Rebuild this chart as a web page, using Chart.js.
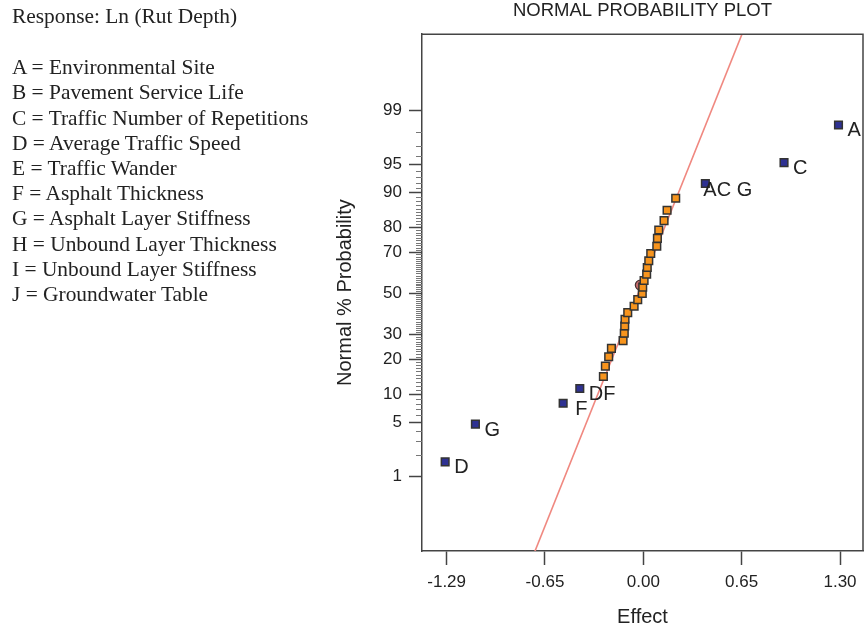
<!DOCTYPE html>
<html>
<head>
<meta charset="utf-8">
<title>Normal Probability Plot</title>
<style>
  html, body { margin: 0; padding: 0; background: #fff; }
  #wrap { position: relative; width: 864px; height: 630px; }
  #myChart { position: absolute; left: 0; top: 0; }
  #notes {
    position: absolute; left: 12px; top: 4px;
    font-family: "Liberation Serif", "Times New Roman", serif;
    font-size: 21.4px; line-height: 25.2px; color: #222; white-space: nowrap;
  }
  #notes .gap { height: 26px; }
</style>
<script src="https://cdn.jsdelivr.net/npm/chart.js@4.4.0/dist/chart.umd.min.js"></script>
</head>
<body>
<div id="wrap">
  <canvas id="myChart" width="864" height="630"></canvas>
  <div id="notes"></div>
</div>
<script>
// --- data ---
const responseName = 'Response: Ln (Rut Depth)';
const factorNotes = [
  'A = Environmental Site',
  'B = Pavement Service Life',
  'C = Traffic Number of Repetitions',
  'D = Average Traffic Speed',
  'E = Traffic Wander',
  'F = Asphalt Thickness',
  'G = Asphalt Layer Stiffness',
  'H = Unbound Layer Thickness',
  'I = Unbound Layer Stiffness',
  'J = Groundwater Table'
];

// labelled (significant) effects, blue squares
const termNames = ['D', 'G', 'F', 'DF', 'AC G', 'C', 'A'];
const termEffects = [-1.31, -1.11, -0.53, -0.42, 0.41, 0.93, 1.29];
const termProbs = [1.6, 4.8, 8.1, 11.3, 91.9, 95.2, 98.4];

// error estimates, orange squares
const errorEffects = [-0.264, -0.251, -0.229, -0.211, -0.134, -0.126, -0.123, -0.121,
  -0.103, -0.061, -0.037, -0.007, -0.004, 0.005, 0.022, 0.026, 0.036, 0.049,
  0.089, 0.093, 0.102, 0.137, 0.157, 0.214];
const errorProbs = [14.5, 17.7, 21.0, 24.2, 27.4, 30.6, 33.9, 37.1, 40.3, 43.5, 46.8, 50.0,
  53.2, 56.5, 59.7, 62.9, 66.1, 69.4, 72.6, 75.8, 79.0, 82.3, 85.5, 88.7];

// small marker partly hidden behind the orange squares
const markEffects = [-0.02];
const markProbs = [54.2];

// reference line
const fitEffects = [-0.731, 0.663];
const fitProbs = [0.04, 99.96];

// axes
const xTickValues = [-1.30, -0.65, 0, 0.65, 1.30];
const xTickLabels = ['-1.29', '-0.65', '0.00', '0.65', '1.30'];
const yTickPercents = [1, 5, 10, 20, 30, 50, 70, 80, 90, 95, 99];
const yTickLabels = ['1', '5', '10', '20', '30', '50', '70', '80', '90', '95', '99'];

// --- left text block ---
const notes = document.getElementById('notes');
notes.innerHTML = '<div>' + responseName + '</div><div class="gap"></div>' +
  factorNotes.map(t => '<div>' + t + '</div>').join('');

// inverse normal CDF (percent -> z)
function probit(pct) {
  const p = pct / 100;
  const a = [-3.969683028665376e+01, 2.209460984245205e+02, -2.759285104469687e+02, 1.383577518672690e+02, -3.066479806614716e+01, 2.506628277459239e+00];
  const b = [-5.447609879822406e+01, 1.615858368580409e+02, -1.556989798598866e+02, 6.680131188771972e+01, -1.328068155288572e+01];
  const c = [-7.784894002430293e-03, -3.223964580411365e-01, -2.400758277161838e+00, -2.549732539343734e+00, 4.374664141464968e+00, 2.938163982698783e+00];
  const d = [7.784695709041462e-03, 3.224671290700398e-01, 2.445134137142996e+00, 3.754408661907416e+00];
  const pl = 0.02425;
  let q, r;
  if (p < pl) {
    q = Math.sqrt(-2 * Math.log(p));
    return (((((c[0]*q+c[1])*q+c[2])*q+c[3])*q+c[4])*q+c[5]) / ((((d[0]*q+d[1])*q+d[2])*q+d[3])*q+1);
  }
  if (p > 1 - pl) {
    q = Math.sqrt(-2 * Math.log(1 - p));
    return -(((((c[0]*q+c[1])*q+c[2])*q+c[3])*q+c[4])*q+c[5]) / ((((d[0]*q+d[1])*q+d[2])*q+d[3])*q+1);
  }
  q = p - 0.5; r = q * q;
  return (((((a[0]*r+a[1])*r+a[2])*r+a[3])*r+a[4])*r+a[5])*q / (((((b[0]*r+b[1])*r+b[2])*r+b[3])*r+b[4])*r+1);
}

const toPoints = (xs, ps) => xs.map((x, i) => ({ x: x, y: probit(ps[i]) }));

const sans = '"Liberation Sans", Arial, sans-serif';
const labelNudge = { 'F': [12, 6], 'AC G': [-2, 7] };

// term labels next to the blue squares
const termLabels = {
  id: 'termLabels',
  afterDatasetsDraw(chart) {
    const meta = chart.getDatasetMeta(3);
    const ctx = chart.ctx;
    ctx.save();
    ctx.font = '20px ' + sans;
    ctx.fillStyle = '#222';
    ctx.textBaseline = 'middle';
    meta.data.forEach((pt, i) => {
      const n = labelNudge[termNames[i]] || [9, 6];
      ctx.fillText(termNames[i], pt.x + n[0], pt.y + n[1]);
    });
    ctx.restore();
  }
};

// top/right frame and the minor percent ticks on the y axis
const frameAndMinor = {
  id: 'frameAndMinor',
  afterDraw(chart) {
    const { ctx, chartArea: a } = chart;
    const y = chart.scales.y;
    ctx.save();
    ctx.strokeStyle = '#444';
    ctx.lineWidth = 1.5;
    ctx.beginPath();
    ctx.moveTo(a.left, a.top);
    ctx.lineTo(a.right, a.top);
    ctx.lineTo(a.right, a.bottom);
    ctx.stroke();
    ctx.strokeStyle = '#777';
    ctx.lineWidth = 1;
    for (let p = 1; p <= 99; p++) {
      if (yTickPercents.includes(p)) continue;
      const py = Math.round(y.getPixelForValue(probit(p))) + 0.5;
      ctx.beginPath();
      ctx.moveTo(a.left - 6, py);
      ctx.lineTo(a.left, py);
      ctx.stroke();
    }
    ctx.restore();
  }
};

new Chart(document.getElementById('myChart'), {
  type: 'scatter',
  data: {
    datasets: [
      { label: 'fit', type: 'line', data: toPoints(fitEffects, fitProbs),
        borderColor: '#f08880', borderWidth: 1.6, pointRadius: 0, order: 4 },
      { label: 'mark', data: toPoints(markEffects, markProbs), pointStyle: 'circle',
        pointRadius: 5, backgroundColor: '#c46a6a', borderColor: '#4a3535', borderWidth: 1.2, order: 3 },
      { label: 'error', data: toPoints(errorEffects, errorProbs), pointStyle: 'rect',
        pointRadius: 5.4, backgroundColor: '#f7941d', borderColor: '#333', borderWidth: 1.5, order: 2 },
      { label: 'terms', data: toPoints(termEffects, termProbs), pointStyle: 'rect',
        pointRadius: 5.4, backgroundColor: '#2e3192', borderColor: '#333', borderWidth: 1.5, order: 1 }
    ]
  },
  options: {
    responsive: false,
    animation: false,
    events: [],
    layout: { autoPadding: false, padding: { left: 333, right: 1, top: 0, bottom: 0 } },
    plugins: {
      legend: { display: false },
      tooltip: { enabled: false },
      title: {
        display: true, fullSize: false,
        text: 'NORMAL PROBABILITY PLOT', color: '#222',
        font: { family: sans, size: 18.5, weight: 'normal' },
        padding: { top: 0, bottom: 12 }
      }
    },
    scales: {
      x: {
        type: 'linear', min: -1.463, max: 1.452,
        afterBuildTicks: s => { s.ticks = xTickValues.map(v => ({ value: v })); },
        afterFit: s => { s.height = 79; s.paddingLeft = 0; s.paddingRight = 0; },
        ticks: { callback: (v, i) => xTickLabels[i], color: '#222', padding: 7,
          font: { family: sans, size: 17 }, maxRotation: 0, autoSkip: false },
        grid: { drawOnChartArea: false, tickLength: 14, tickColor: '#444', tickWidth: 1.5 },
        border: { color: '#444', width: 1.5 },
        title: { display: true, text: 'Effect', color: '#222',
          font: { family: sans, size: 20 }, padding: { top: 0, bottom: 1 } }
      },
      y: {
        type: 'linear', min: -3.28, max: 3.30,
        afterBuildTicks: s => { s.ticks = yTickPercents.map(p => ({ value: probit(p) })); },
        afterFit: s => { s.width = 89; s.paddingTop = 0; s.paddingBottom = 0; },
        ticks: { callback: (v, i) => yTickLabels[i], color: '#222', padding: 7,
          font: { family: sans, size: 17 }, autoSkip: false },
        grid: { drawOnChartArea: false, tickLength: 13, tickColor: '#444', tickWidth: 1.5 },
        border: { color: '#444', width: 1.5 },
        title: { display: true, text: 'Normal % Probability', color: '#222',
          font: { family: sans, size: 20 }, padding: { top: 0, bottom: 0 } }
      }
    }
  },
  plugins: [termLabels, frameAndMinor]
});
</script>
</body>
</html>
